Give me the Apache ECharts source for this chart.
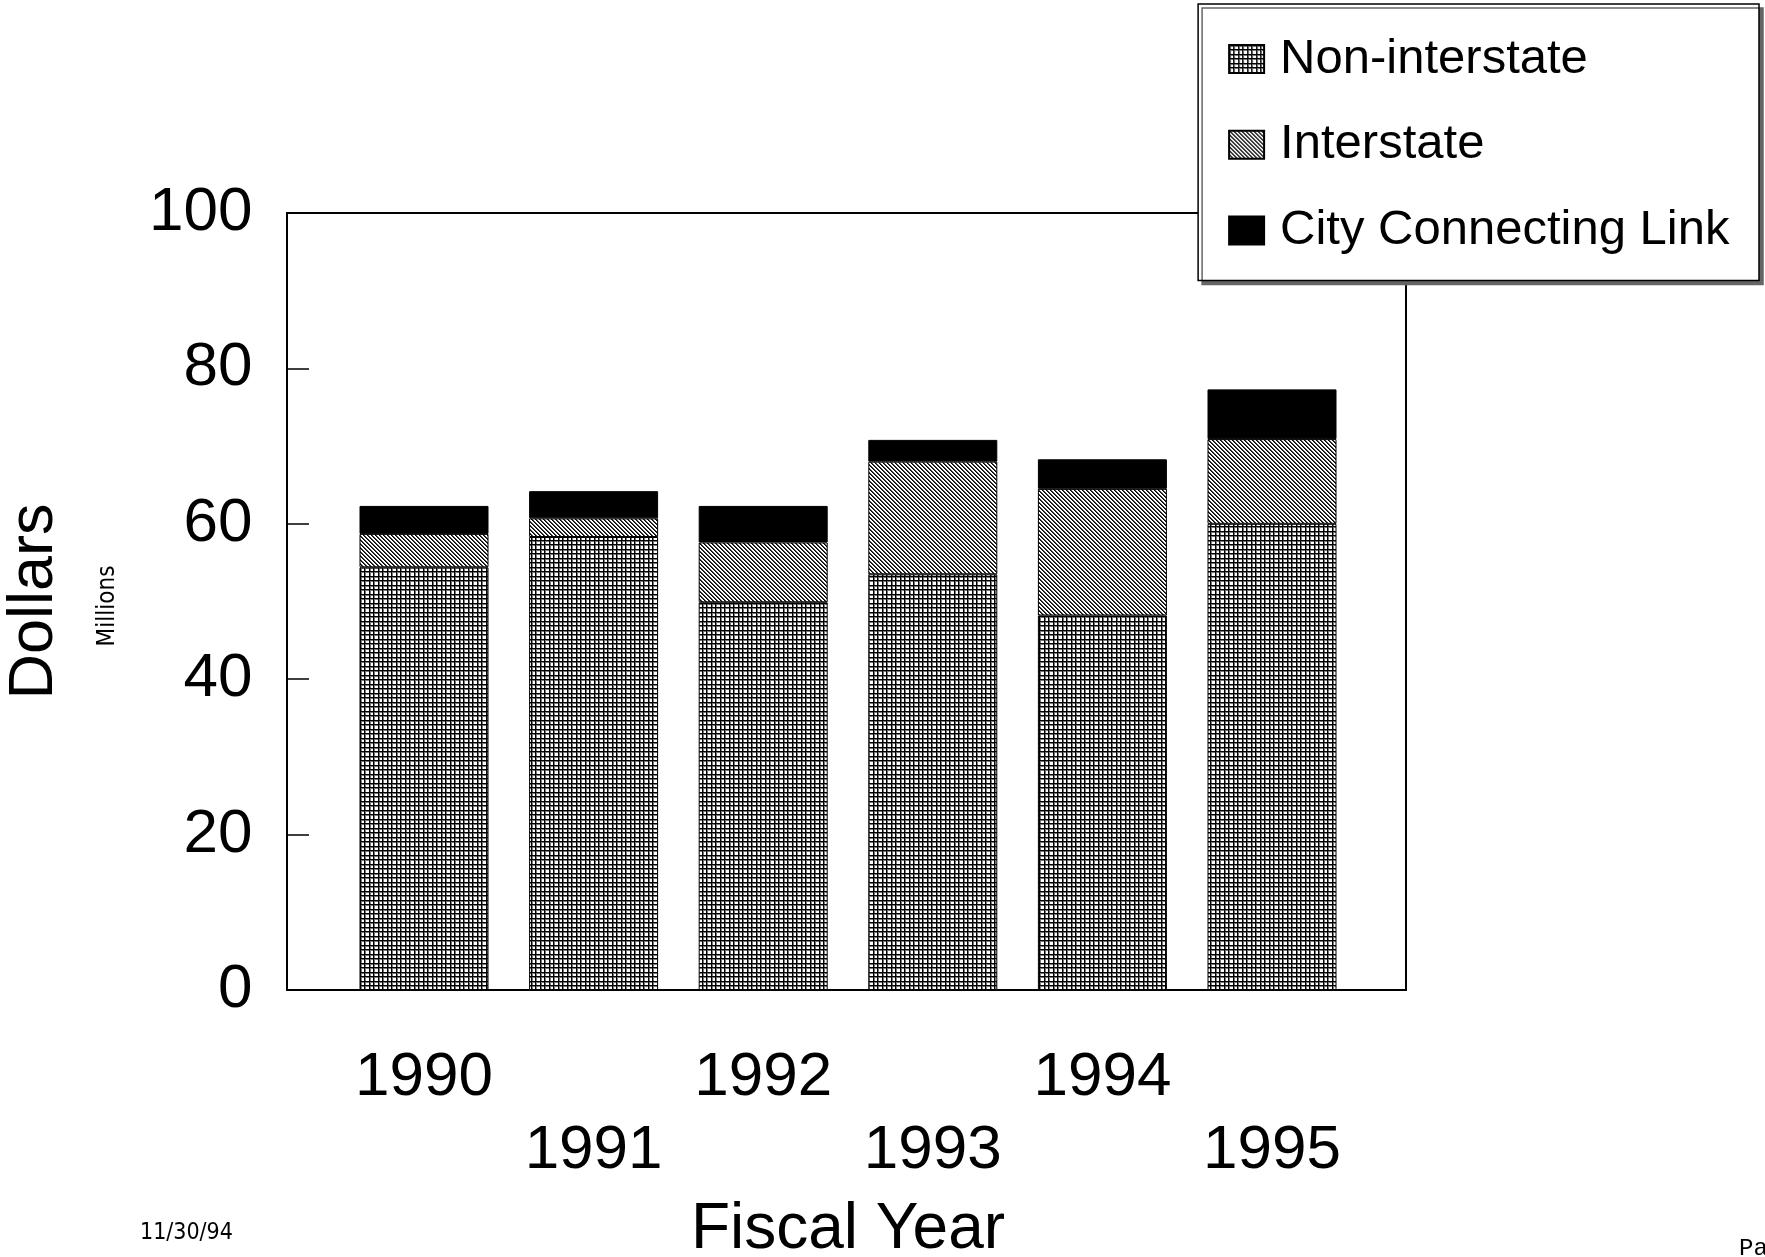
<!DOCTYPE html>
<html>
<head>
<meta charset="utf-8">
<script src="https://cdn.jsdelivr.net/npm/echarts@6/dist/echarts.min.js"></script>
<style>
html,body{margin:0;padding:0;background:#fff;}
#chart{width:1765px;height:1257px;}
</style>
</head>
<body>
<div id="chart"></div>
<script>
const years = ['1990', '1991', '1992', '1993', '1994', '1995'];
const nonInterstate = [54.4, 58.3, 49.9, 53.5, 48.2, 60.0];
const interstate = [4.3, 2.4, 7.7, 14.5, 16.3, 10.9];
const cityLink = [3.6, 3.5, 4.7, 2.8, 3.8, 6.4];
const yTicks = [0, 20, 40, 60, 80, 100];

function gridPattern() {
  const c = document.createElement('canvas');
  c.width = 9; c.height = 9;
  const g = c.getContext('2d');
  g.fillStyle = '#fff'; g.fillRect(0, 0, 9, 9);
  g.fillStyle = '#777';
  g.fillRect(0, 1, 9, 1); g.fillRect(1, 0, 1, 9);
  g.fillRect(0, 5, 9, 1); g.fillRect(5, 0, 1, 9);
  g.fillStyle = '#000';
  g.fillRect(0, 0, 9, 1); g.fillRect(0, 0, 1, 9);
  g.fillRect(0, 4, 9, 1); g.fillRect(4, 0, 1, 9);
  return c;
}
function hatchPattern() {
  const c = document.createElement('canvas');
  c.width = 8; c.height = 8;
  const g = c.getContext('2d');
  g.fillStyle = '#fff'; g.fillRect(0, 0, 8, 8);
  for (let y = 0; y < 8; y++) {
    for (let x = 0; x < 8; x++) {
      const d = (((x - y) % 4) + 4) % 4;
      if (d === 0) { g.fillStyle = '#000'; g.fillRect(x, y, 1, 1); }
      else if (d === 1) { g.fillStyle = '#444'; g.fillRect(x, y, 1, 1); }
    }
  }
  return c;
}

const gridFill = { image: gridPattern(), repeat: 'repeat' };
const hatchFill = { image: hatchPattern(), repeat: 'repeat' };
const FONT = "'Liberation Sans', Arial, sans-serif";
const NARROW = "'Liberation Sans Narrow', 'DejaVu Sans Condensed', sans-serif";

const chart = echarts.init(document.getElementById('chart'), null, { renderer: 'canvas' });

const barBase = {
  type: 'bar',
  stack: 'total',
  xAxisIndex: 1,
  yAxisIndex: 1,
  barWidth: 129,
  animation: false
};

chart.setOption({
  backgroundColor: '#fff',
  animation: false,
  textStyle: { fontFamily: FONT, color: '#000' },
  grid: [
    { left: 287, top: 213, width: 1119, height: 777, show: true, borderColor: '#000', borderWidth: 2,
      backgroundColor: 'transparent', containLabel: false, outerBoundsMode: 'none' },
    { left: 339.2, top: 213, width: 1017.6, height: 777, containLabel: false, outerBoundsMode: 'none' }
  ],
  xAxis: [
    { gridIndex: 0, type: 'value', min: 0, max: 1, show: false },
    {
      gridIndex: 1, type: 'category', data: years,
      axisLine: { show: false }, axisTick: { show: false },
      axisLabel: {
        interval: 0, margin: 51, fontSize: 62, lineHeight: 73, color: '#000', fontFamily: FONT,
        formatter: function (v, i) { return i % 2 ? '\n' + v : v; }
      },
      name: 'Fiscal Year', nameLocation: 'middle', nameGap: 208.5,
      nameTextStyle: { fontSize: 64, color: '#000', fontFamily: FONT }
    }
  ],
  yAxis: [
    {
      gridIndex: 0, type: 'value', min: 0, max: 100, interval: 20,
      axisLine: { show: true, lineStyle: { color: '#000', width: 2 } },
      axisTick: { show: true, inside: true, length: 22, lineStyle: { color: '#000', width: 1.5 } },
      axisLabel: { fontSize: 62, margin: 34.5, color: '#000', fontFamily: FONT,
        formatter: function (v) { return yTicks.indexOf(v) >= 0 ? String(v) : ''; } },
      splitLine: { show: false },
      name: 'Dollars', nameLocation: 'middle', nameGap: 221,
      nameTextStyle: { fontSize: 63, color: '#000', fontFamily: FONT }
    },
    { gridIndex: 1, type: 'value', min: 0, max: 100, show: false }
  ],
  legend: {
    orient: 'vertical', right: 6, top: 4,
    itemWidth: 35, itemHeight: 28, itemGap: 36.8,
    padding: [30.5, 29.5, 25.5, 30],
    icon: 'rect',
    backgroundColor: '#fff', borderColor: '#000', borderWidth: 1.5,
    shadowColor: '#666', shadowOffsetX: 4, shadowOffsetY: 4, shadowBlur: 0,
    textStyle: { fontSize: 49, lineHeight: 48, color: '#000', fontFamily: FONT, padding: [0, 0, 0, 11] },
    data: ['Non-interstate', 'Interstate', 'City Connecting Link']
  },
  graphic: [
    { type: 'text', x: 108, y: 606, rotation: Math.PI / 2,
      style: { text: 'Millions', font: '24px ' + NARROW, fill: '#000', align: 'center', verticalAlign: 'middle' } },
    { type: 'text', x: 140, y: 1233,
      style: { text: '11/30/94', font: '23px ' + NARROW, fill: '#000', align: 'left', verticalAlign: 'middle' } },
    { type: 'text', x: 1739, y: 1249,
      style: { text: 'Page', font: '24px \'Liberation Mono\', monospace', fill: '#000', align: 'left', verticalAlign: 'middle' } }
  ],
  series: [
    Object.assign({}, barBase, { name: 'Non-interstate', data: nonInterstate,
      itemStyle: { color: gridFill, borderColor: '#000', borderWidth: 1 } }),
    Object.assign({}, barBase, { name: 'Interstate', data: interstate,
      itemStyle: { color: hatchFill, borderColor: '#000', borderWidth: 1 } }),
    Object.assign({}, barBase, { name: 'City Connecting Link', data: cityLink,
      itemStyle: { color: '#000', borderColor: '#000', borderWidth: 1 } })
  ]
});
</script>
</body>
</html>
